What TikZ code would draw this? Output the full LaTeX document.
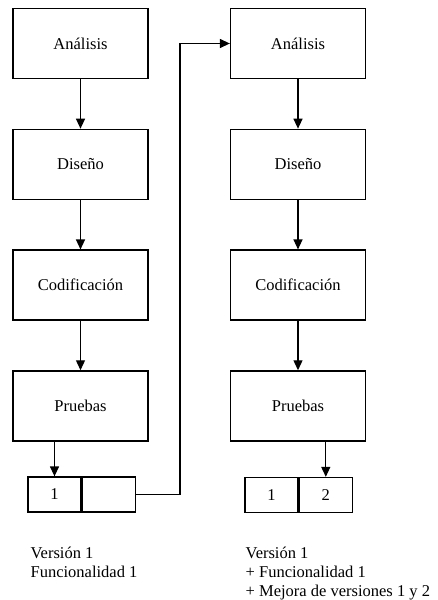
\documentclass[tikz,border=0pt]{standalone}
\usepackage{fontspec}
\setmainfont{Liberation Serif}
\usetikzlibrary{positioning,arrows.meta}

\begin{document}
\begin{tikzpicture}[x=1pt,y=-1pt,line width=1.3pt,
        fase/.style={draw,minimum width=135pt,minimum height=70pt,inner sep=0pt,font=\fontsize{16.5}{19}\selectfont},
        celda/.style={draw,minimum width=53pt,minimum height=35pt,inner sep=0pt,font=\fontsize{16.5}{19}\selectfont},
        flecha/.style={-{Triangle[length=10pt,width=9pt]}},
        nota/.style={anchor=north west,align=left,inner sep=0pt,font=\fontsize{16.5}{19}\selectfont}]
        \useasboundingbox (0,0) rectangle (437,600);

        % primera version
        \node[fase] (anal1) at (80.5,43.5) {Análisis};
        \node[fase,below=49.5pt of anal1] (dise1) {Diseño};
        \node[fase,below=49.5pt of dise1] (codi1) {Codificación};
        \node[fase,below=49.5pt of codi1] (prue1) {Pruebas};
        \node[celda] (va1) at (54.5,494.5) {1};
        \node[celda,right=0pt of va1] (vb1) {};

        % segunda version
        \node[fase] (anal2) at (298,43.5) {Análisis};
        \node[fase,below=49.5pt of anal2] (dise2) {Diseño};
        \node[fase,below=49.5pt of dise2] (codi2) {Codificación};
        \node[fase,below=49.5pt of codi2] (prue2) {Pruebas};
        \node[celda] (wa2) at (271.5,495) {1};
        \node[celda,right=0pt of wa2] (wb2) {2};

        \draw[flecha] (anal1) -- (dise1);
        \draw[flecha] (dise1) -- (codi1);
        \draw[flecha] (codi1) -- (prue1);
        \draw[flecha] (prue1.south -| va1.north) -- (va1.north);
        \draw[flecha] (anal2) -- (dise2);
        \draw[flecha] (dise2) -- (codi2);
        \draw[flecha] (codi2) -- (prue2);
        \draw[flecha] (prue2.south -| wb2.north) -- (wb2.north);
        \draw[flecha] (vb1.east) -- ++(44,0) |- (anal2.west);

        \node[nota] (txt1) at (30,546) {Versión 1\\Funcionalidad 1};
        \node[nota] (txt2) at (245,546) {Versión 1\\+ Funcionalidad 1\\+ Mejora de versiones 1 y 2};
\end{tikzpicture}
\end{document}
